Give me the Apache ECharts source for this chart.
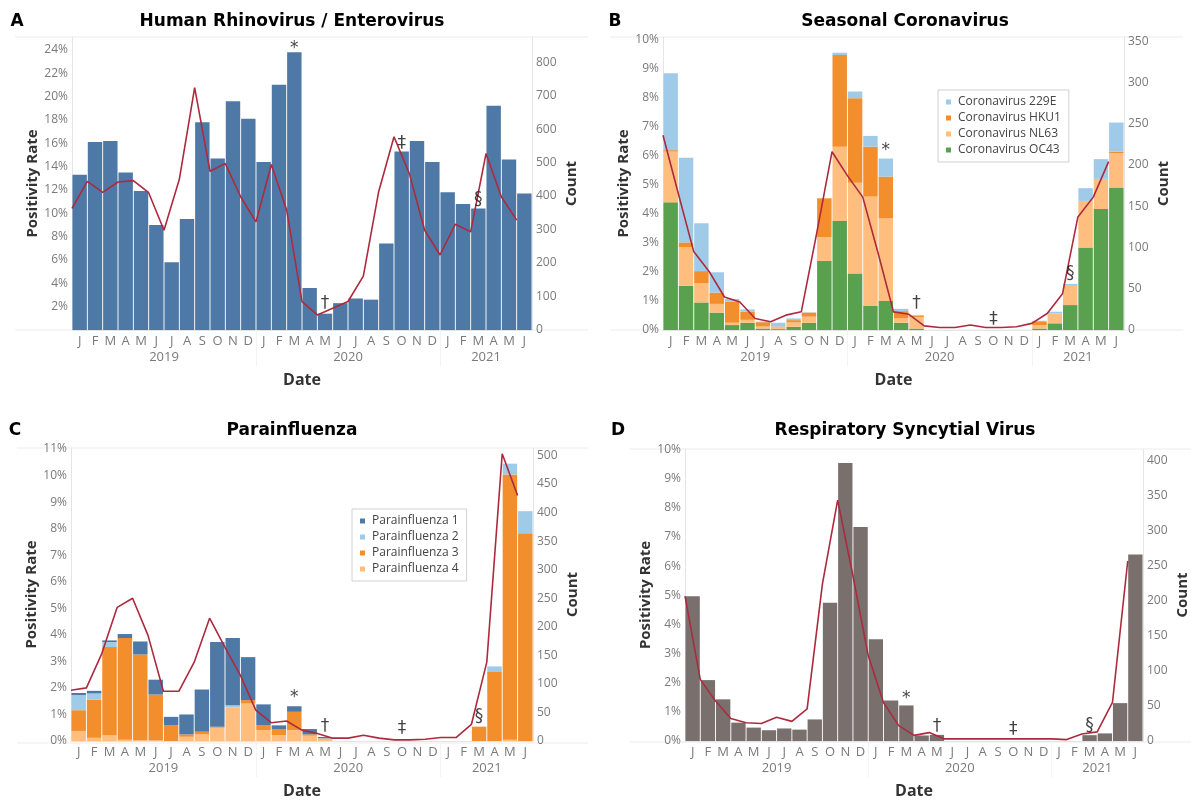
<!DOCTYPE html>
<html>
<head>
<meta charset="utf-8">
<script src="https://cdn.jsdelivr.net/npm/echarts@6/dist/echarts.min.js"></script>
<style>
  html, body { margin: 0; padding: 0; background: #fff; }
  #main { width: 1191px; height: 800px; }
</style>
</head>
<body>
<div id="main"></div>
<script>
// months Jan 2019 .. Jun 2021
const months = ['J','F','M','A','M','J','J','A','S','O','N','D',
                'J','F','M','A','M','J','J','A','S','O','N','D',
                'J','F','M','A','M','J'];
const yearLabels = ['2019', '2020', '2021'];
const yearCenters = [6, 18, 27];
const yearBreaks = [12, 24];

// A - rhinovirus / enterovirus
const hrevRate = [13.3,16.1,16.2,13.5,11.9,9.0,5.8,9.5,17.8,14.7,19.6,18.1,14.4,21.0,23.8,3.6,1.4,2.3,2.7,2.6,7.4,15.3,16.2,14.4,11.8,10.8,10.4,19.2,14.6,11.7];
const hrevCount = [363,444,411,442,446,410,298,450,724,474,497,398,323,494,358,85,45,65,85,161,413,577,467,298,224,316,293,527,398,328];

// B - seasonal coronavirus (positivity %, stacked)
const cov229E = [2.65,2.92,1.65,0.70,0.09,0.08,0.02,0.13,0.06,0.01,0,0.08,0.23,0.37,0.62,0.08,0.02,0,0,0,0,0,0,0,0.02,0.06,0.07,0.44,0.68,1.0];
const covHKU1 = [0.05,0.17,0.42,0.39,0.73,0.28,0.15,0.02,0.08,0.14,1.34,3.16,2.91,1.72,1.44,0.25,0.05,0,0,0,0,0,0,0,0.13,0,0,0,0,0.06];
const covNL63 = [1.75,1.33,0.66,0.30,0.08,0.10,0.07,0.07,0.15,0.21,0.82,2.56,3.13,3.77,2.85,0.15,0.40,0,0,0,0,0,0,0,0.12,0.34,0.66,1.61,1.04,1.18];
const covOC43 = [4.40,1.52,0.95,0.60,0.17,0.25,0.05,0.03,0.11,0.25,2.38,3.76,1.95,0.83,1.00,0.25,0.05,0,0,0,0,0,0,0,0.05,0.23,0.86,2.84,4.17,4.91];
const covCount = [236,165,95,71,40,34,14,10,18,22,117,216,187,161,93,22,19,5,3,3,6,3,3,4,8,20,44,137,161,204];

// C - parainfluenza
const piv1 = [0.08,0.10,0.06,0.15,0.49,0.56,0.31,0.75,1.59,3.19,2.53,1.62,0.78,0.14,0.21,0.2,0.05,0,0,0,0,0,0,0,0,0,0,0,0,0];
const piv2 = [0.57,0.23,0.19,0,0,0,0,0,0,0,0.09,0,0,0,0,0,0,0,0,0,0,0,0,0,0,0,0,0.21,0.41,0.83];
const piv3 = [0.78,1.44,3.32,3.83,3.23,1.73,0.6,0.09,0.1,0.04,0,0.13,0.19,0.23,0.69,0.05,0,0,0,0,0,0,0,0,0,0,0.54,2.6,9.99,7.83];
const piv4 = [0.38,0.12,0.22,0.05,0.03,0.02,0,0.16,0.25,0.5,1.26,1.41,0.41,0.22,0.41,0.2,0.1,0,0,0,0,0,0,0,0,0,0,0,0.05,0];
const pivCount = [89,93,153,234,250,185,87,87,138,215,164,115,54,32,35,19,13,5,5,10,5,2,2,3,6,6,29,138,503,430];

// D - RSV
const rsvRate = [4.97,2.09,1.43,0.63,0.46,0.37,0.43,0.39,0.74,4.74,9.54,7.34,3.49,1.39,1.22,0.19,0.21,0,0,0,0,0,0,0,0,0,0.2,0.26,1.3,6.4];
const rsvCount = [207,88,57,32,26,25,34,28,46,224,344,236,122,55,22,8,12,3,3,3,3,3,3,3,3,2,10,13,55,257];

// footnote markers (month index, height on rate axis)
const markSymbols = ['*', '†', '‡', '§'];
const markMonths = [14, 16, 21, 26];
const hrevMarkY = [24.1, 2.25, 16.0, 11.2];
const covMarkY = [6.2, 0.9, 0.37, 1.95];
const pivMarkY = [1.62, 0.54, 0.48, 0.91];
const rsvMarkY = [1.45, 0.51, 0.38, 0.54];

const rateTicksA = [2,4,6,8,10,12,14,16,18,20,22,24];
const rateTicksB = [0,1,2,3,4,5,6,7,8,9,10];
const rateTicksC = [0,1,2,3,4,5,6,7,8,9,10,11];
const rateTicksD = [0,1,2,3,4,5,6,7,8,9,10];
const countTicksA = [0,100,200,300,400,500,600,700,800];
const countTicksB = [0,50,100,150,200,250,300,350];
const countTicksC = [0,50,100,150,200,250,300,350,400,450,500];
const countTicksD = [0,50,100,150,200,250,300,350,400];

const BLUE = '#4e79a7', LBLUE = '#a0cbe8', ORANGE = '#f28e2b', LORANGE = '#ffbe7d',
      GREEN = '#59a14f', GREY = '#79706e', LINE = '#ad2a3e';
const AXIS_GREY = '#e4e4e4';
const LABEL = { color: '#7a7a7a', fontSize: 12, fontFamily: 'Open Sans' };

const panels = [
  { grid: { left: 72, top: 37, width: 460, height: 293 },
    title: 'Human Rhinovirus / Enterovirus', letter: 'A', tx: 292, ty: 22, lx: 17, frame: [15, 588],
    rateMax: 25.1, countMax: 875, rateTicks: rateTicksA, countTicks: countTicksA,
    bars: [{ name: 'HRV/EV', data: hrevRate, color: BLUE }], count: hrevCount, marks: hrevMarkY },
  { grid: { left: 663, top: 37, width: 461, height: 293 },
    title: 'Seasonal Coronavirus', letter: 'B', tx: 905, ty: 22, lx: 615, frame: [610, 1183],
    rateMax: 10.1, countMax: 355, rateTicks: rateTicksB, countTicks: countTicksB,
    bars: [{ name: 'Coronavirus OC43', data: covOC43, color: GREEN },
           { name: 'Coronavirus NL63', data: covNL63, color: LORANGE },
           { name: 'Coronavirus HKU1', data: covHKU1, color: ORANGE },
           { name: 'Coronavirus 229E', data: cov229E, color: LBLUE }],
    count: covCount, marks: covMarkY },
  { grid: { left: 71, top: 448, width: 462, height: 295 },
    title: 'Parainfluenza', letter: 'C', tx: 292, ty: 431, lx: 15, frame: [17, 588],
    rateMax: 11.04, countMax: 513, rateTicks: rateTicksC, countTicks: countTicksC,
    bars: [{ name: 'Parainfluenza 4', data: piv4, color: LORANGE },
           { name: 'Parainfluenza 3', data: piv3, color: ORANGE },
           { name: 'Parainfluenza 2', data: piv2, color: LBLUE },
           { name: 'Parainfluenza 1', data: piv1, color: BLUE }],
    count: pivCount, marks: pivMarkY },
  { grid: { left: 685, top: 449, width: 461, height: 293 },
    title: 'Respiratory Syncytial Virus', letter: 'D', tx: 905, ty: 431, lx: 618, frame: [630, 1191],
    rateMax: 10.02, countMax: 417, rateTicks: rateTicksD, countTicks: countTicksD,
    bars: [{ name: 'RSV', data: rsvRate, color: GREY }], count: rsvCount, marks: rsvMarkY }
];

const grid = [], xAxis = [], yAxis = [], series = [], graphic = [];

panels.forEach((p, g) => {
  grid.push(p.grid);

  // month labels (bars sit on this one)
  xAxis.push({
    gridIndex: g, type: 'category', data: months,
    axisLine: { show: true, lineStyle: { color: AXIS_GREY } },
    axisTick: { show: false },
    axisLabel: Object.assign({}, LABEL, { interval: 0, margin: 5, fontSize: 13 })
  });
  // year labels
  xAxis.push({
    gridIndex: g, type: 'value', min: 0, max: 30, position: 'bottom',
    axisLine: { show: false }, splitLine: { show: false },
    axisTick: { show: true, customValues: yearBreaks, length: 36, lineStyle: { color: '#f3f3f3' } },
    axisLabel: Object.assign({}, LABEL, {
      fontSize: 13, margin: 21, customValues: yearCenters,
      formatter: v => yearLabels[yearCenters.indexOf(v)]
    }),
    name: 'Date', nameLocation: 'middle', nameGap: 42,
    nameTextStyle: { fontWeight: 'bold', fontSize: 16, color: '#333', fontFamily: 'Open Sans' }
  });
  // hidden axis so the count line sits on the bar edges
  xAxis.push({
    gridIndex: g, type: 'category', data: months.concat(['']), boundaryGap: false,
    position: 'top', show: false
  });

  yAxis.push({
    gridIndex: g, type: 'value', min: 0, max: p.rateMax, position: 'left',
    axisLine: { show: true, lineStyle: { color: AXIS_GREY } },
    axisTick: { show: false }, splitLine: { show: false },
    axisLabel: Object.assign({}, LABEL, { margin: 4, customValues: p.rateTicks, formatter: v => v + '%' }),
    name: 'Positivity Rate', nameLocation: 'middle', nameGap: 32, nameRotate: 90,
    nameTextStyle: { fontWeight: 'bold', fontSize: 15, color: '#333', fontFamily: 'Open Sans' }
  });
  yAxis.push({
    gridIndex: g, type: 'value', min: 0, max: p.countMax, position: 'right',
    axisLine: { show: true, lineStyle: { color: AXIS_GREY } },
    axisTick: { show: false }, splitLine: { show: false },
    axisLabel: Object.assign({}, LABEL, { margin: 4, customValues: p.countTicks }),
    name: 'Count', nameLocation: 'middle', nameGap: 32, nameRotate: 90,
    nameTextStyle: { fontWeight: 'bold', fontSize: 15, color: '#333', fontFamily: 'Open Sans' }
  });

  p.bars.forEach(b => {
    series.push({
      type: 'bar', name: b.name, stack: 'st' + g,
      xAxisIndex: 3 * g, yAxisIndex: 2 * g,
      data: b.data, barCategoryGap: '6%',
      itemStyle: { color: b.color }
    });
  });

  series.push({
    type: 'line', name: 'Count ' + g,
    xAxisIndex: 3 * g + 2, yAxisIndex: 2 * g + 1,
    data: p.count, symbol: 'none', z: 5,
    lineStyle: { color: LINE, width: 1.6 }
  });

  series.push({
    type: 'scatter', name: 'marks ' + g,
    xAxisIndex: 3 * g, yAxisIndex: 2 * g, z: 6,
    data: markMonths.map((m, i) => [m, p.marks[i]]),
    symbolSize: 1, itemStyle: { color: 'rgba(0,0,0,0)' },
    label: { show: true, position: 'inside', formatter: q => markSymbols[q.dataIndex],
             fontSize: 17, color: '#111', fontFamily: 'DejaVu Sans' }
  });

  const top = p.grid.top, base = p.grid.top + p.grid.height;
  graphic.push({ type: 'line', silent: true, shape: { x1: p.frame[0], y1: top, x2: p.frame[1], y2: top },
                 style: { stroke: '#ececec', lineWidth: 1 } });
  graphic.push({ type: 'line', silent: true, shape: { x1: p.frame[0], y1: base, x2: p.frame[1], y2: base },
                 style: { stroke: '#ececec', lineWidth: 1 } });
  graphic.push({ type: 'text', x: p.tx, y: p.ty,
                 style: { text: p.title, align: 'center', verticalAlign: 'middle',
                          fontSize: 17, fontWeight: 'bold', fontFamily: 'DejaVu Sans', fill: '#000' } });
  graphic.push({ type: 'text', x: p.lx, y: p.ty,
                 style: { text: p.letter, align: 'center', verticalAlign: 'middle',
                          fontSize: 17, fontWeight: 'bold', fontFamily: 'DejaVu Sans', fill: '#000' } });
});

const legendBase = {
  orient: 'vertical', icon: 'rect', itemWidth: 5, itemHeight: 5, itemGap: 4,
  borderColor: '#d0d0d0', borderWidth: 1, padding: [6, 8, 6, 8], backgroundColor: '#fff',
  textStyle: { color: '#444', fontSize: 12, fontFamily: 'Open Sans', padding: [0, 0, 0, 2] },
  selectedMode: false
};

const option = {
  animation: false,
  backgroundColor: '#fff',
  grid, xAxis, yAxis, series, graphic,
  legend: [
    Object.assign({}, legendBase, { left: 938, top: 90,
      data: ['Coronavirus 229E', 'Coronavirus HKU1', 'Coronavirus NL63', 'Coronavirus OC43'] }),
    Object.assign({}, legendBase, { left: 352, top: 509,
      data: ['Parainfluenza 1', 'Parainfluenza 2', 'Parainfluenza 3', 'Parainfluenza 4'] })
  ]
};

const chart = echarts.init(document.getElementById('main'));
chart.setOption(option);
</script>
</body>
</html>
